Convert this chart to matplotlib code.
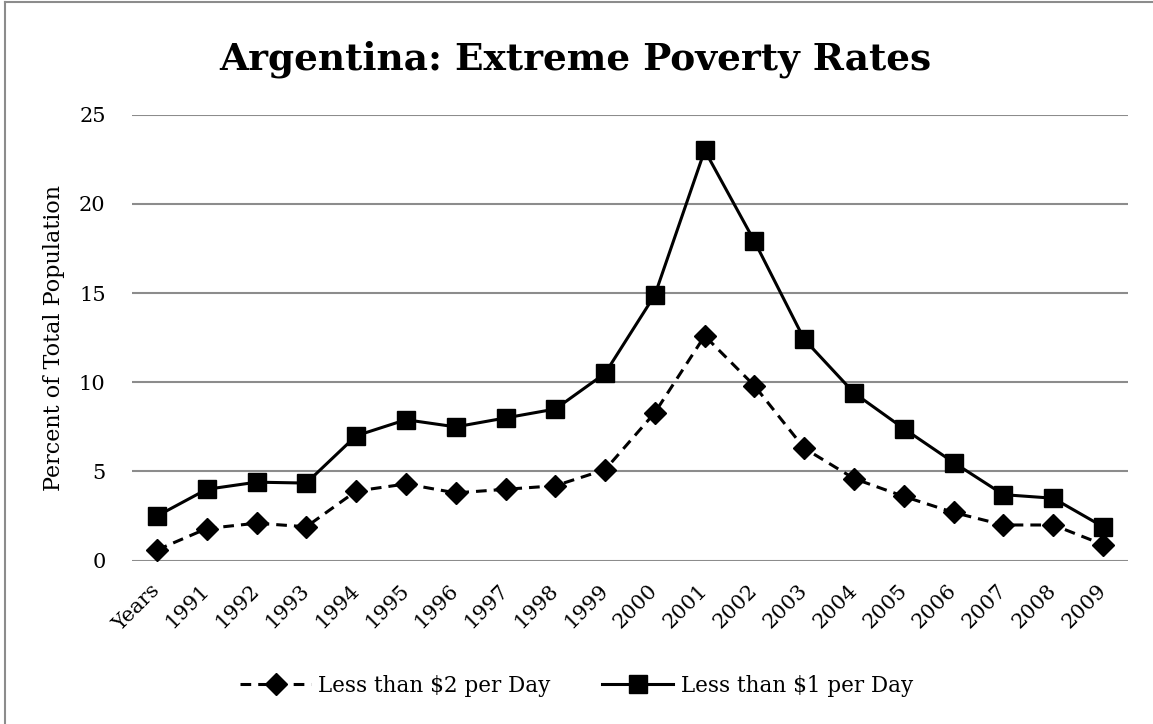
import matplotlib
matplotlib.use("Agg")
import matplotlib.pyplot as plt
from matplotlib.lines import Line2D

# poverty rates, percent of total population
years = ["Years", "1991", "1992", "1993", "1994", "1995", "1996", "1997", "1998", "1999",
         "2000", "2001", "2002", "2003", "2004", "2005", "2006", "2007", "2008", "2009"]
less_than_2 = [0.6, 1.8, 2.1, 1.9, 3.9, 4.3, 3.8, 4.0, 4.2, 5.1,
               8.3, 12.6, 9.8, 6.3, 4.6, 3.6, 2.7, 2.0, 2.0, 0.9]
less_than_1 = [2.5, 4.0, 4.4, 4.35, 7.0, 7.9, 7.5, 8.0, 8.5, 10.5,
               14.9, 23.0, 17.9, 12.4, 9.4, 7.4, 5.5, 3.7, 3.5, 1.9]
yticks = [0, 5, 10, 15, 20, 25]

plt.rcParams["font.family"] = ["DejaVu Serif"]

fig = plt.figure(figsize=(11.53, 7.24), dpi=100)
ax = fig.add_axes([0.1145, 0.2256, 0.8638, 0.616])

x = list(range(len(years)))
ax.plot(x, less_than_2, color="black", lw=2.2, ls=(0, (3.5, 2.3)),
        marker="D", ms=11.5, label="Less than $2 per Day", zorder=3)
ax.plot(x, less_than_1, color="black", lw=2.2, ls="-",
        marker="s", ms=12.5, label="Less than $1 per Day", zorder=3)

ax.set_xlim(-0.5, len(years) - 0.5)
ax.set_ylim(0, 25)
ax.set_yticks(yticks)
ax.set_xticks(x)
ax.set_xticklabels(years, rotation=45, ha="right", va="center",
                   rotation_mode="anchor")
ax.tick_params(axis="x", length=0, pad=19, labelsize=15)
ax.tick_params(axis="y", length=0, pad=19, labelsize=15)
ax.yaxis.grid(True, color="#8c8c8c", lw=1.5)
ax.set_axisbelow(True)
for s in ax.spines.values():
    s.set_visible(False)

ax.set_ylabel("Percent of Total Population", fontsize=16, labelpad=10)
fig.text(0.4986, 0.918, "Argentina: Extreme Poverty Rates", ha="center",
         va="center", fontsize=27, fontweight="bold")

fig.legend(loc="center", bbox_to_anchor=(0.5, 1 - 686 / 724), ncol=2,
           frameon=False, fontsize=15.5, handlelength=3.3, handletextpad=0.33,
           columnspacing=2.4)

# outer frame (left and top edges)
fig.add_artist(Line2D([5 / 1153, 5 / 1153], [0, 1 - 2 / 724], color="#8c8c8c", lw=1.5))
fig.add_artist(Line2D([5 / 1153, 1], [1 - 2 / 724, 1 - 2 / 724], color="#8c8c8c", lw=1.5))

fig.savefig("out.png", dpi=100)
